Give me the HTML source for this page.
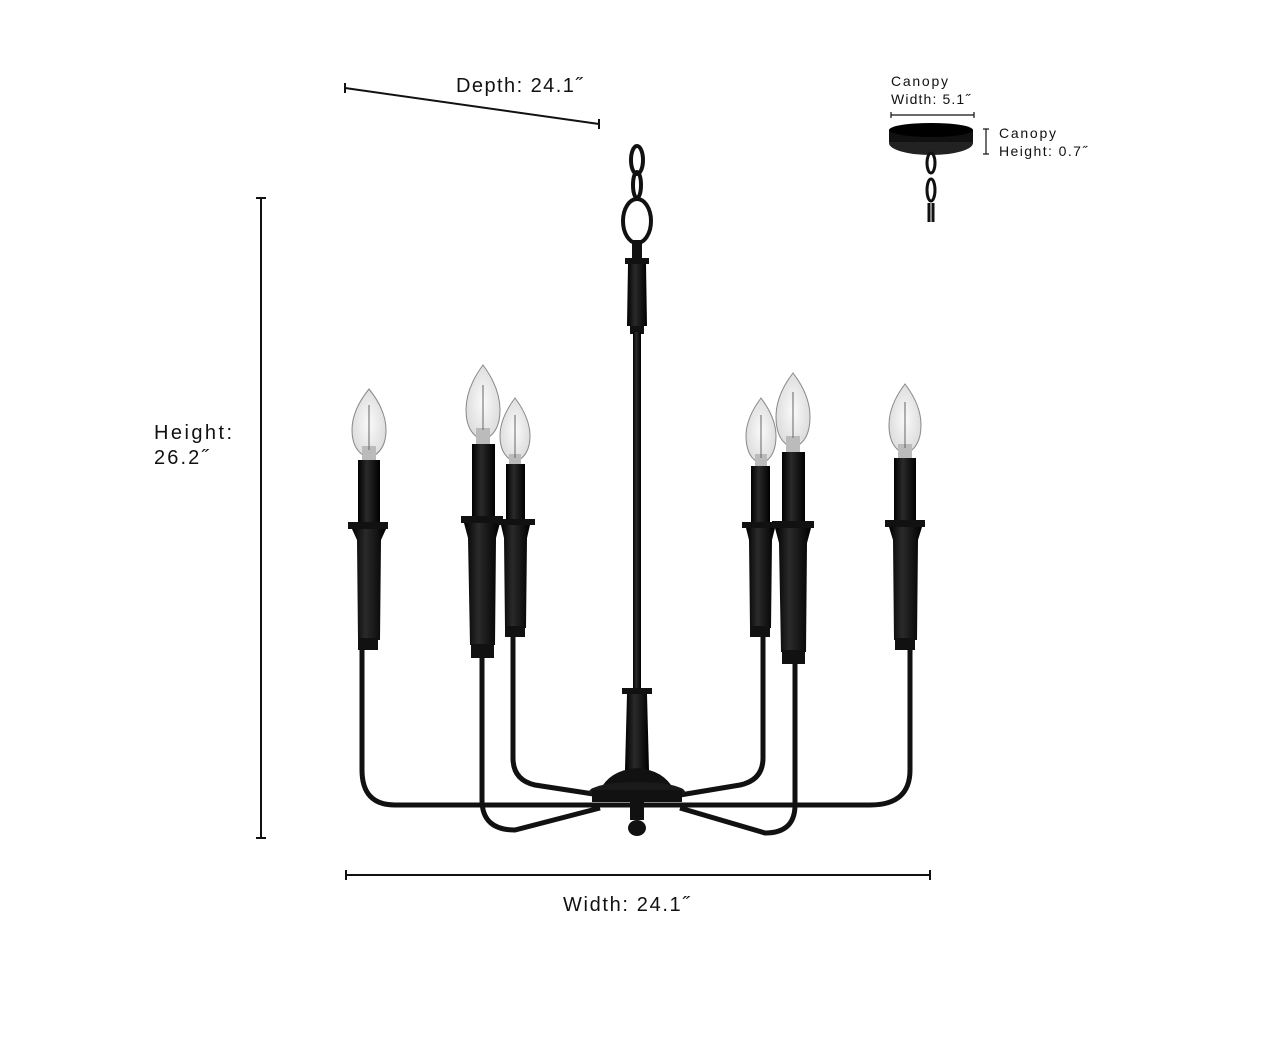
<!DOCTYPE html>
<html><head><style>
html,body{margin:0;padding:0;background:#fff;}
svg{display:block}
text{font-family:"Liberation Sans",sans-serif;fill:#111}
</style></head><body>
<svg width="1275" height="1050" viewBox="0 0 1275 1050" xmlns="http://www.w3.org/2000/svg">
<defs>
<linearGradient id="blk" x1="0" x2="1" y1="0" y2="0">
<stop offset="0" stop-color="#000"/><stop offset="0.4" stop-color="#2a2a2a"/><stop offset="1" stop-color="#000"/>
</linearGradient>
<radialGradient id="bulb" cx="0.5" cy="0.5" r="0.6">
<stop offset="0" stop-color="#fafafa"/><stop offset="1" stop-color="#d8d8d8"/>
</radialGradient>
</defs>
<g stroke="#111" stroke-width="2" fill="none">
<line x1="345" y1="88" x2="599" y2="124"/><line x1="345" y1="83" x2="345" y2="93"/><line x1="599" y1="119" x2="599" y2="129"/>
<line x1="261" y1="198" x2="261" y2="838"/><line x1="256" y1="198" x2="266" y2="198"/><line x1="256" y1="838" x2="266" y2="838"/>
<line x1="346" y1="875" x2="930" y2="875"/><line x1="346" y1="870" x2="346" y2="880"/><line x1="930" y1="870" x2="930" y2="880"/>
<line x1="891" y1="115" x2="974" y2="115" stroke-width="1.2"/><line x1="891" y1="112" x2="891" y2="118" stroke-width="1.2"/><line x1="974" y1="112" x2="974" y2="118" stroke-width="1.2"/>
<line x1="986" y1="129" x2="986" y2="154" stroke-width="1.2"/><line x1="983" y1="129" x2="989" y2="129" stroke-width="1.2"/><line x1="983" y1="154" x2="989" y2="154" stroke-width="1.2"/>
</g>
<text x="456" y="92" font-size="20" textLength="126">Depth: 24.1˝</text>
<text x="154" y="439" font-size="20" textLength="78">Height:</text>
<text x="154" y="464" font-size="20" textLength="54">26.2˝</text>
<text x="563" y="911" font-size="20" textLength="126">Width: 24.1˝</text>
<text x="891" y="86" font-size="14" textLength="57">Canopy</text>
<text x="891" y="104" font-size="14" textLength="79">Width: 5.1˝</text>
<text x="999" y="138" font-size="14" textLength="57">Canopy</text>
<text x="999" y="156" font-size="14" textLength="88">Height: 0.7˝</text>
<ellipse cx="931" cy="143" rx="42" ry="12" fill="#222"/>
<rect x="889" y="130" width="84" height="12" fill="#111"/>
<ellipse cx="931" cy="130" rx="42" ry="7" fill="#000"/>
<g stroke="#111" stroke-width="3" fill="none">
<ellipse cx="931" cy="163" rx="4" ry="10"/><ellipse cx="931" cy="190" rx="4" ry="11"/><line x1="929" y1="203" x2="929" y2="222"/><line x1="933" y1="203" x2="933" y2="222"/>
</g>
<g stroke="#111" stroke-width="5" fill="none">
<path d="M362 648 L362 770 Q362 805 395 805 L870 805 Q910 805 910 770 L910 648"/>
<path d="M482 655 L482 800 Q482 830 515 830 L600 808"/>
<path d="M795 662 L795 805 Q795 833 765 833 L680 808"/>
<path d="M513 636 L513 758 Q513 780 535 785 L600 795"/>
<path d="M763 636 L763 758 Q763 780 740 785 L680 795"/>
</g>
<g stroke="#111" stroke-width="4" fill="none">
<ellipse cx="637" cy="160" rx="6" ry="14"/>
<ellipse cx="637" cy="185" rx="4" ry="13"/>
<ellipse cx="637" cy="221" rx="14" ry="22"/>
</g>
<rect x="632" y="240" width="10" height="22" fill="#111"/>
<rect x="625" y="258" width="24" height="6" fill="#111"/>
<path d="M628 264 L646 264 L647 326 L627 326 Z" fill="url(#blk)"/>
<rect x="630" y="326" width="14" height="8" fill="#111"/>
<rect x="633" y="332" width="8" height="360" fill="url(#blk)"/>
<rect x="622" y="688" width="30" height="6" fill="#111"/>
<path d="M627 694 L647 694 L649 770 L625 770 Z" fill="url(#blk)"/>
<path d="M600 790 Q610 770 637 768 Q664 770 674 790 Z" fill="#111"/>
<ellipse cx="637" cy="792" rx="48" ry="10" fill="#1a1a1a"/>
<rect x="592" y="790" width="90" height="12" fill="#111"/>
<rect x="630" y="802" width="14" height="18" fill="#111"/>
<ellipse cx="637" cy="828" rx="9" ry="8" fill="#111"/>
<g>
<path d="M369 389 Q386 410 386 430 Q386 452 369 458 Q352 452 352 430 Q352 410 369 389 Z" fill="url(#bulb)" stroke="#888"/><rect x="362" y="446" width="14" height="14" fill="#bbb"/><line x1="369" y1="405" x2="369" y2="450" stroke="#666"/>
<rect x="358" y="460" width="22" height="64" fill="url(#blk)"/><rect x="348" y="522" width="40" height="7" fill="#111"/>
<path d="M352 529 L386 529 L381 540 L380 640 L358 640 L357 540 Z" fill="url(#blk)"/><rect x="358" y="638" width="20" height="12" fill="#111"/>
</g>
<g>
<path d="M483 365 Q500 388 500 410 Q500 434 483 440 Q466 434 466 410 Q466 388 483 365 Z" fill="url(#bulb)" stroke="#888"/><rect x="476" y="428" width="14" height="16" fill="#bbb"/><line x1="483" y1="385" x2="483" y2="430" stroke="#666"/>
<rect x="472" y="444" width="23" height="75" fill="url(#blk)"/><rect x="461" y="516" width="42" height="7" fill="#111"/>
<path d="M464 523 L500 523 L496 538 L495 645 L470 645 L468 538 Z" fill="url(#blk)"/><rect x="471" y="644" width="23" height="14" fill="#111"/>
</g>
<g>
<path d="M515 398 Q530 418 530 436 Q530 456 515 462 Q500 456 500 436 Q500 418 515 398 Z" fill="url(#bulb)" stroke="#888"/><rect x="509" y="454" width="12" height="12" fill="#bbb"/><line x1="515" y1="415" x2="515" y2="458" stroke="#666"/>
<rect x="506" y="464" width="19" height="58" fill="url(#blk)"/><rect x="497" y="519" width="38" height="6" fill="#111"/>
<path d="M501 525 L530 525 L527 538 L526 628 L505 628 L504 538 Z" fill="url(#blk)"/><rect x="505" y="626" width="20" height="11" fill="#111"/>
</g>
<g>
<path d="M761 398 Q776 418 776 436 Q776 458 761 464 Q746 458 746 436 Q746 418 761 398 Z" fill="url(#bulb)" stroke="#888"/><rect x="755" y="454" width="12" height="12" fill="#bbb"/><line x1="761" y1="415" x2="761" y2="458" stroke="#666"/>
<rect x="751" y="466" width="19" height="58" fill="url(#blk)"/><rect x="742" y="522" width="38" height="6" fill="#111"/>
<path d="M746 528 L775 528 L772 540 L771 628 L750 628 L749 540 Z" fill="url(#blk)"/><rect x="750" y="626" width="20" height="11" fill="#111"/>
</g>
<g>
<path d="M793 373 Q810 395 810 417 Q810 442 793 448 Q776 442 776 417 Q776 395 793 373 Z" fill="url(#bulb)" stroke="#888"/><rect x="786" y="436" width="14" height="16" fill="#bbb"/><line x1="793" y1="392" x2="793" y2="438" stroke="#666"/>
<rect x="782" y="452" width="23" height="72" fill="url(#blk)"/><rect x="772" y="521" width="42" height="7" fill="#111"/>
<path d="M775 528 L811 528 L807 543 L806 652 L781 652 L779 543 Z" fill="url(#blk)"/><rect x="782" y="650" width="23" height="14" fill="#111"/>
</g>
<g>
<path d="M905 384 Q921 405 921 425 Q921 448 905 454 Q889 448 889 425 Q889 405 905 384 Z" fill="url(#bulb)" stroke="#888"/><rect x="898" y="444" width="14" height="14" fill="#bbb"/><line x1="905" y1="402" x2="905" y2="448" stroke="#666"/>
<rect x="894" y="458" width="22" height="65" fill="url(#blk)"/><rect x="885" y="520" width="40" height="7" fill="#111"/>
<path d="M889 527 L922 527 L918 540 L917 640 L894 640 L893 540 Z" fill="url(#blk)"/><rect x="895" y="638" width="20" height="12" fill="#111"/>
</g>
</svg>
</body></html>
